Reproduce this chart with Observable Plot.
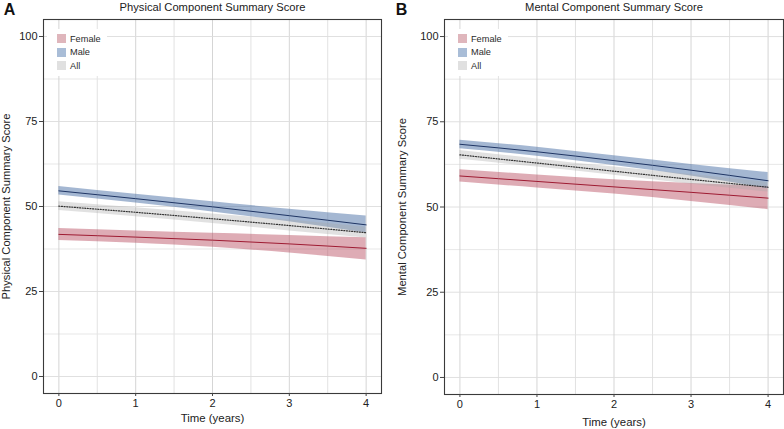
<!DOCTYPE html>
<html>
<head>
<meta charset="utf-8">
<script src="https://cdn.jsdelivr.net/npm/d3@7"></script>
<script src="https://cdn.jsdelivr.net/npm/@observablehq/plot@0.6"></script>
<style>
  body { margin: 0; background: #fff; font-family: "Liberation Sans", Arial, Helvetica, sans-serif; }
  #wrap { position: relative; width: 784px; height: 429px; overflow: hidden; }
  .panel { position: absolute; top: 0; width: 392px; height: 429px; }
  .legend { position: absolute; background: #fff; font-size: 9.2px; color: #2a2a2a; padding: 3px 6px 3px 10px; }
  .legend div { display: flex; align-items: center; height: 13.5px; color: #2a2a2a; }
  .legend span.key { display: inline-block; width: 9px; height: 9px; margin-right: 4px; }
</style>
</head>
<body>
<div id="wrap"></div>
<script>
// ---- data ----
const times = [0, 1, 2, 3, 4];
const groups = ["Female", "Male", "All"];
const xTicks = [0, 1, 2, 3, 4];
const yTicks = [0, 25, 50, 75, 100];

// Physical Component Summary Score
const pcsFemale   = [41.8, 41.0, 40.1, 39.0, 37.7];
const pcsFemaleLo = [40.0, 39.2, 38.0, 36.3, 34.3];
const pcsFemaleHi = [43.5, 42.8, 42.1, 41.5, 40.8];
const pcsMale     = [54.6, 52.3, 49.9, 47.3, 44.6];
const pcsMaleLo   = [53.4, 51.0, 48.4, 45.5, 42.2];
const pcsMaleHi   = [55.9, 53.6, 51.4, 49.2, 47.2];
const pcsAll      = [50.1, 48.3, 46.4, 44.4, 42.3];
const pcsAllLo    = [48.8, 47.0, 45.0, 42.8, 40.7];
const pcsAllHi    = [51.4, 49.6, 47.8, 46.0, 43.9];

// Mental Component Summary Score
const mcsFemale   = [59.1, 57.5, 55.9, 54.3, 52.6];
const mcsFemaleLo = [57.3, 55.6, 53.8, 51.6, 49.2];
const mcsFemaleHi = [60.9, 59.4, 58.0, 56.9, 56.0];
const mcsMale     = [68.4, 66.2, 63.6, 60.8, 57.7];
const mcsMaleLo   = [67.1, 64.9, 62.2, 59.1, 55.4];
const mcsMaleHi   = [69.6, 67.5, 65.0, 62.5, 60.1];
const mcsAll      = [65.3, 62.9, 60.5, 58.1, 55.8];
const mcsAllLo    = [64.0, 61.7, 59.3, 56.7, 54.4];
const mcsAllHi    = [66.6, 64.1, 61.7, 59.5, 57.2];

const bandFill = {Female: "#b5485a", Male: "#4a6fa5", All: "#aaaaaa"};
const bandOpacity = {Female: 0.45, Male: 0.5, All: 0.35};
const lineStroke = {Female: "#9e1b32", Male: "#1f3564", All: "#333333"};
const legendKey = {Female: "#dfb6bc", Male: "#a9bdd7", All: "#e0e0e0"};

function rows(mean, lo, hi, group) {
  return times.map((t, i) => ({t, mean: mean[i], lo: lo[i], hi: hi[i], group}));
}

const FONT = '"Liberation Sans", Arial, Helvetica, sans-serif';

function panel({letter, title, ylabel, data, ml, mr, mt, mb, ylabDx, xlabDy}) {
  const marks = [
    Plot.gridX([0.5, 1.5, 2.5, 3.5], {stroke: "#d6d6d6", strokeOpacity: 1, strokeWidth: 0.7}),
    Plot.gridY([12.5, 37.5, 62.5, 87.5], {stroke: "#e4e4e4", strokeOpacity: 1, strokeWidth: 0.9}),
    Plot.gridX(xTicks, {stroke: "#d0d0d0", strokeOpacity: 1, strokeWidth: 0.9}),
    Plot.gridY(yTicks, {stroke: "#dcdcdc", strokeOpacity: 1, strokeWidth: 0.9}),
  ];
  for (const g of groups) {
    const d = data.filter(r => r.group === g);
    marks.push(Plot.areaY(d, {x: "t", y1: "lo", y2: "hi", fill: bandFill[g], fillOpacity: bandOpacity[g], curve: "monotone-x"}));
  }
  for (const g of ["Female", "Male"]) {
    const d = data.filter(r => r.group === g);
    marks.push(Plot.lineY(d, {x: "t", y: "mean", stroke: lineStroke[g], strokeWidth: 1, curve: "monotone-x"}));
  }
  marks.push(Plot.lineY(data.filter(r => r.group === "All"), {x: "t", y: "mean", stroke: lineStroke.All, strokeWidth: 1.2, strokeDasharray: "1,1.6", curve: "monotone-x"}));
  marks.push(
    Plot.frame({stroke: "#3a3a3a", strokeWidth: 1.1}),
    Plot.axisY(yTicks, {tickSize: 4, tickPadding: 2, fontSize: 11, stroke: "#444", fill: "#222", label: null}),
    Plot.axisX(xTicks, {tickSize: 3, tickPadding: 3, fontSize: 11, stroke: "#444", fill: "#222", label: null}),
    Plot.text([title], {frameAnchor: "top", text: d => d, dy: -12, textAnchor: "middle", lineAnchor: "middle", fontSize: 11.2, fill: "#222"}),
    Plot.text([letter], {frameAnchor: "top-left", text: d => d, dx: -ml + 9, dy: -10, textAnchor: "middle", lineAnchor: "middle", fontSize: 16, fontWeight: "bold", fill: "#111"}),
    Plot.text([ylabel], {frameAnchor: "left", text: d => d, dx: ylabDx, rotate: -90, textAnchor: "middle", lineAnchor: "middle", fontSize: 11.2, fill: "#222"}),
    Plot.text(["Time (years)"], {frameAnchor: "bottom", text: d => d, dy: xlabDy, textAnchor: "middle", lineAnchor: "middle", fontSize: 11.4, fill: "#222"})
  );
  return Plot.plot({
    width: 392, height: 429,
    marginLeft: ml, marginRight: mr, marginTop: mt, marginBottom: mb,
    style: {fontFamily: FONT, background: "transparent", overflow: "visible"},
    x: {domain: [-0.2, 4.2]},
    y: {domain: [-5, 105]},
    marks
  });
}

function legend(left, top) {
  const el = document.createElement("div");
  el.className = "legend";
  el.style.left = left + "px";
  el.style.top = top + "px";
  for (const g of groups) {
    const row = document.createElement("div");
    const key = document.createElement("span");
    key.className = "key";
    key.style.background = legendKey[g];
    row.appendChild(key);
    const lab = document.createElement("span");
    lab.textContent = g;
    row.appendChild(lab);
    el.appendChild(row);
  }
  return el;
}

const wrap = document.getElementById("wrap");

const pcsData = [
  ...rows(pcsFemale, pcsFemaleLo, pcsFemaleHi, "Female"),
  ...rows(pcsMale, pcsMaleLo, pcsMaleHi, "Male"),
  ...rows(pcsAll, pcsAllLo, pcsAllHi, "All")
];
const mcsData = [
  ...rows(mcsFemale, mcsFemaleLo, mcsFemaleHi, "Female"),
  ...rows(mcsMale, mcsMaleLo, mcsMaleHi, "Male"),
  ...rows(mcsAll, mcsAllLo, mcsAllHi, "All")
];

const p1 = document.createElement("div");
p1.className = "panel"; p1.style.left = "0px";
p1.appendChild(panel({letter: "A", title: "Physical Component Summary Score", ylabel: "Physical Component Summary Score",
  data: pcsData, ml: 43, mr: 11, mt: 19, mb: 36, ylabDx: -37, xlabDy: 25}));
p1.appendChild(legend(47, 29));
wrap.appendChild(p1);

const p2 = document.createElement("div");
p2.className = "panel"; p2.style.left = "392px";
p2.appendChild(panel({letter: "B", title: "Mental Component Summary Score", ylabel: "Mental Component Summary Score",
  data: mcsData, ml: 52, mr: 1, mt: 19, mb: 35, ylabDx: -42, xlabDy: 28}));
p2.appendChild(legend(56, 29));
wrap.appendChild(p2);
</script>
</body>
</html>
